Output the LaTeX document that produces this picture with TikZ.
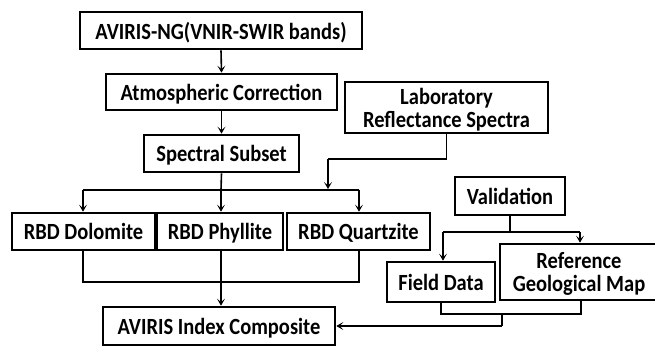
\documentclass[tikz,border=0pt]{standalone}
\usepackage{fontspec}
\setmainfont{Carlito}
\usetikzlibrary{arrows.meta}
\newcommand\tallt[1]{\raisebox{-9.3pt}[0pt][0pt]{\scalebox{1}[1.13]{\begin{tabular}{@{}c@{}}#1\end{tabular}}}}
\tikzset{
  box/.style={draw=black, line width=2.7pt, fill=white, inner sep=0pt, align=center,
    font=\fontsize{20.5}{19.5}\selectfont\bfseries},
  conn/.style={draw=black, line width=1.6pt},
  arr/.style={conn, -{Stealth[length=7pt,width=8pt,inset=3.5pt]}},
}
\begin{document}
\begin{tikzpicture}[x=1pt,y=-1pt]
\useasboundingbox (0,0) rectangle (655,347);
\clip (0,0) rectangle (655,347);
\node[box, minimum width=282, minimum height=37] (avng) at (221,30.5) {\tallt{AVIRIS-NG(VNIR-SWIR bands)}};
\node[box, minimum width=231, minimum height=36] (atm) at (221.5,92) {\tallt{Atmospheric Correction}};
\node[box, minimum width=155, minimum height=37] (sub) at (221.5,153.5) {\tallt{Spectral Subset}};
\node[box, minimum width=203, minimum height=51] (lab) at (446.5,107.5) {\tallt{Laboratory\\Reflectance Spectra}};
\node[box, minimum width=143, minimum height=37] (dol) at (83.5,231.5) {\tallt{RBD Dolomite}};
\node[box, minimum width=126, minimum height=37] (phy) at (220,231.5) {\tallt{RBD Phyllite}};
\node[box, minimum width=143, minimum height=37] (qtz) at (358.5,231.5) {\tallt{RBD Quartzite}};
\node[box, minimum width=232, minimum height=38] (comp) at (219,326) {\tallt{AVIRIS Index Composite}};
\node[box, minimum width=110, minimum height=38] (val) at (510,196) {\tallt{Validation}};
\node[box, minimum width=108, minimum height=40] (field) at (441,282) {\tallt{Field Data}};
\node[box, minimum width=158, minimum height=56] (ref) at (579,272) {\tallt{Reference\\Geological Map}};
% junctions
\coordinate (j1) at (221,190);
\coordinate (jl) at (83,190);
\coordinate (jr) at (359,190);
\coordinate (lj) at (328,159);
\coordinate (b1) at (83,282);
\coordinate (b2) at (359,282);
\coordinate (b3) at (221,282);
\coordinate (v1) at (510,232);
\coordinate (vl) at (443,232);
\coordinate (vr) at (580,232);
\coordinate (f1) at (441,314);
\coordinate (f2) at (581,314);
\coordinate (f3) at (502,314);
\coordinate (f4) at (502,326);
% connectors
\draw[arr] (avng.south) -- (atm.north);
\draw[arr] (atm.south) -- (sub.north);
\draw[conn] (sub.south) -- (j1);
\draw[conn] (jl) -- (jr);
\draw[arr] (jl) -- (jl |- dol.north);
\draw[arr] (j1) -- (j1 |- phy.north);
\draw[arr] (jr) -- (jr |- qtz.north);
\draw[conn] (lab.south) |- (lj);
\draw[arr] (lj) -- ++(0,30);
\draw[conn] (b1 |- dol.south) -- (b1) -- (b2) -- (b2 |- qtz.south);
\draw[conn] (b3 |- phy.south) -- (b3);
\draw[arr] (b3) -- (b3 |- comp.north);
\draw[conn] (val.south) -- (v1);
\draw[conn] (vl) -- (vr);
\draw[arr] (vl) -- (vl |- field.north);
\draw[arr] (vr) -- (vr |- ref.north);
\draw[conn] (f1 |- field.south) -- (f1) -- (f2) -- (f2 |- ref.south);
\draw[conn] (f3) -- (f4);
\draw[arr] (f4) -- (comp.east);
\end{tikzpicture}
\end{document}
